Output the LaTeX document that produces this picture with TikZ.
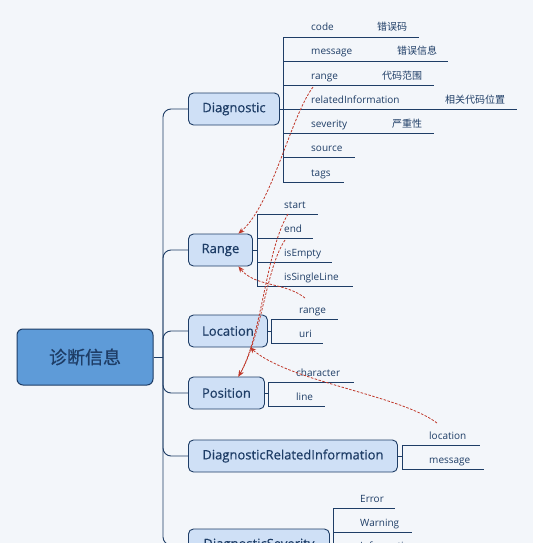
\documentclass[tikz,border=0pt]{standalone}
\usepackage{fontspec}
\setmainfont{Open Sans}
\newfontfamily\cjk{Noto Sans CJK SC}
\newfontfamily\cjkbold{Noto Sans CJK SC}[FakeBold=0.6]
\newfontfamily\childfont{Open Sans}[FakeBold=0.6]
\usetikzlibrary{arrows.meta}
\definecolor{bg}{HTML}{F3F6FA}
\definecolor{navy}{HTML}{1E3D66}
\definecolor{childfill}{HTML}{CFE0F6}
\definecolor{rootfill}{HTML}{5E9BD8}
\definecolor{refred}{HTML}{C0392B}
\begin{document}
\begin{tikzpicture}[x=1pt,y=-1pt,
 rootbox/.style={draw=navy, line width=1pt, fill=rootfill, rounded corners=6pt, minimum width=136pt, minimum height=56pt, font=\cjkbold\fontsize{18}{20}\selectfont, text=navy, inner sep=0pt},
 childbox/.style={draw=navy, line width=0.9pt, fill=childfill, rounded corners=5pt, minimum height=32pt, font=\childfont\fontsize{13}{15}\selectfont, text=navy, inner sep=0pt, anchor=west},
 leaf/.style={font=\fontsize{10}{12}\selectfont, text=navy, anchor=base west, inner sep=0pt},
 note/.style={font=\cjk\fontsize{10}{12}\selectfont, text=navy, anchor=base west, inner sep=0pt},
 branch/.style={draw=navy, line width=0.9pt, rounded corners=8pt},
 leafline/.style={draw=navy, line width=0.9pt},
 refarrow/.style={draw=refred, line width=0.8pt, dash pattern=on 2.5pt off 1.5pt, -{Stealth[length=6pt,width=5pt]}},
]
\fill[bg] (0,0) rectangle (533,543);
\useasboundingbox (0,0) rectangle (533,543);
\clip (0,0) rectangle (533,543);

% root and children
\node[rootbox] (root) at (85,357) {诊断信息};
\node[childbox, minimum width=91pt] (diag) at (188,109) {Diagnostic};
\node[childbox, minimum width=64pt] (range) at (188,250) {Range};
\node[childbox, minimum width=79pt] (loc) at (188,331) {Location};
\node[childbox, minimum width=76pt] (pos) at (188,393) {Position};
\node[childbox, minimum width=209pt] (dri) at (188,456) {DiagnosticRelatedInformation};
\node[childbox, minimum width=141pt] (sev) at (188,545) {DiagnosticSeverity};

\coordinate (hub) at (163,357);
\draw[branch] (root.east) -- (hub);
\foreach \c in {diag,range,loc,pos,dri,sev} \draw[branch] (hub) |- (\c.west);

% Diagnostic leaves
\coordinate (dbar) at (283,109);
\draw[leafline] (diag.east) -- (dbar);
\foreach \n/\t/\u/\e in {dcode/code/37/419, dmsg/message/61/448, drange/range/85/434, drel/relatedInformation/109/517, dsev/severity/133/434, dsrc/source/157/355, dtags/tags/182/344} {
  \node[leaf] (\n) at (311,\u-6) {\t};
  \coordinate (\n end) at (\e,\u);
  \draw[leafline] (dbar) |- (\n end);
}
\node[note] (dcodezh) at (377,31) {错误码};
\node[note] (dmsgzh) at (397,55) {错误信息};
\node[note] (drangezh) at (382,79) {代码范围};
\node[note] (drelzh) at (445,103) {相关代码位置};
\node[note] (dsevzh) at (392,127) {严重性};

% Range leaves
\coordinate (rbar) at (257,250);
\draw[leafline] (range.east) -- (rbar);
\foreach \n/\t/\u/\e in {rstart/start/214/318, rend/end/238/313, rempty/isEmpty/262/332, rsingle/isSingleLine/286/353} {
  \node[leaf] (\n) at (284,\u-6) {\t};
  \coordinate (\n end) at (\e,\u);
  \draw[leafline] (rbar) |- (\n end);
}

% Location leaves
\coordinate (lbar) at (271,331);
\draw[leafline] (loc.east) -- (lbar);
\foreach \n/\t/\u/\e in {lrange/range/319/338, luri/uri/343/323} {
  \node[leaf] (\n) at (299,\u-6) {\t};
  \coordinate (\n end) at (\e,\u);
  \draw[leafline] (lbar) |- (\n end);
}

% Position leaves
\coordinate (pbar) at (268,393);
\draw[leafline] (pos.east) -- (pbar);
\foreach \n/\t/\u/\e in {pchar/character/382/354, pline/line/406/325} {
  \node[leaf] (\n) at (296,\u-6) {\t};
  \coordinate (\n end) at (\e,\u);
  \draw[leafline] (pbar) |- (\n end);
}

% DiagnosticRelatedInformation leaves
\coordinate (ibar) at (402,456);
\draw[leafline] (dri.east) -- (ibar);
\foreach \n/\t/\u/\e in {iloc/location/445/480, imsg/message/469/484} {
  \node[leaf] (\n) at (429,\u-6) {\t};
  \coordinate (\n end) at (\e,\u);
  \draw[leafline] (ibar) |- (\n end);
}

% DiagnosticSeverity leaves
\coordinate (sbar) at (333,545);
\draw[leafline] (sev.east) -- (sbar);
\foreach \n/\t/\u/\e in {serr/Error/508/395, swarn/Warning/532/412, sinfo/Information/555/430} {
  \node[leaf] (\n) at (360,\u-6) {\t};
  \coordinate (\n end) at (\e,\u);
  \draw[leafline] (sbar) |- (\n end);
}

% reference arrows
\coordinate (a1) at (313,87);
\coordinate (b1) at (288,214);
\coordinate (b2) at (285,240);
\coordinate (c1) at (305,298);
\coordinate (d1) at (437,423);
\draw[refarrow] (a1) .. controls (290,118) and (272,205) .. ([xshift=18pt]range.north);
\draw[refarrow] (b1) .. controls (266,250) and (262,335) .. ([xshift=12pt]pos.north);
\draw[refarrow] (b2) .. controls (266,268) and (262,335) .. ([xshift=12pt]pos.north);
\draw[refarrow] (c1) .. controls (285,282) and (255,287) .. ([xshift=18pt]range.south);
\draw[refarrow] (d1) .. controls (400,395) and (290,382) .. ([xshift=22pt]loc.south);
\end{tikzpicture}
\end{document}
